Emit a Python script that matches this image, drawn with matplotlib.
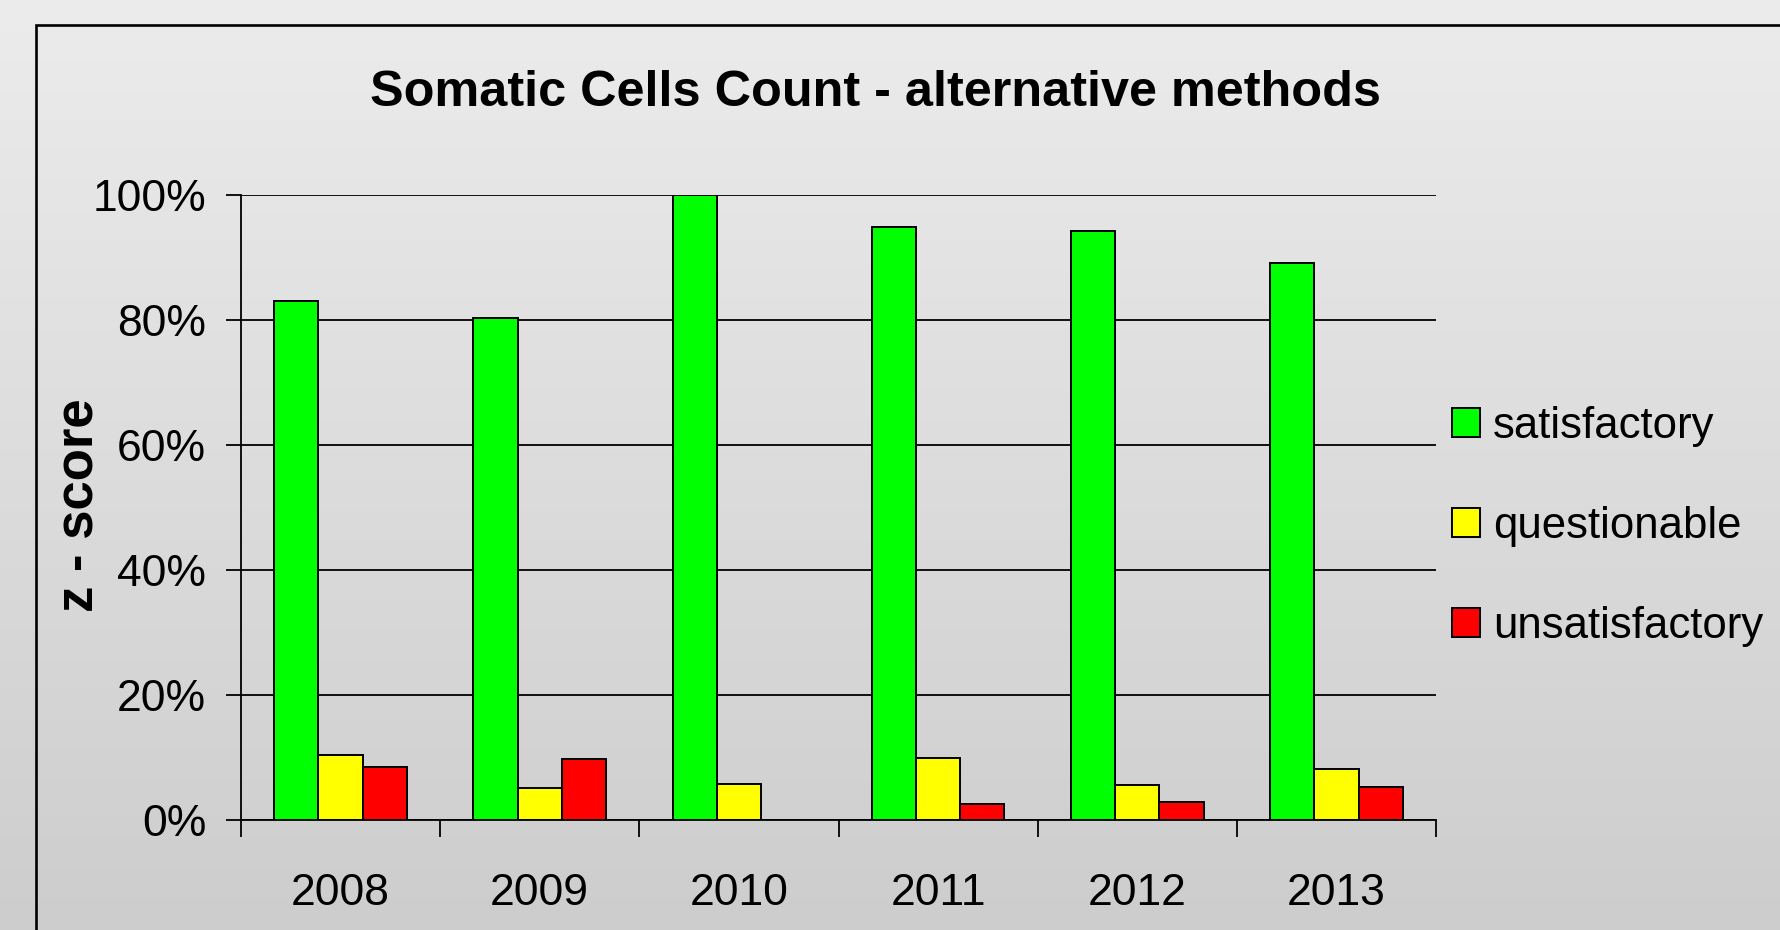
import numpy as np
import matplotlib
matplotlib.use("Agg")
import matplotlib.pyplot as plt
from matplotlib.lines import Line2D
from matplotlib.patches import Patch

plt.rcParams['font.family'] = ['Liberation Sans', 'DejaVu Sans']

years = ["2008", "2009", "2010", "2011", "2012", "2013"]
series_names = ["satisfactory", "questionable", "unsatisfactory"]
satisfactory = [83.1, 80.3, 100.0, 94.9, 94.3, 89.1]
questionable = [10.4, 5.1, 5.7, 10.0, 5.65, 8.2]
unsatisfactory = [8.5, 9.8, 0.0, 2.6, 2.9, 5.3]
colors = ["#00ff00", "#ffff00", "#ff0000"]
yticks = [0, 20, 40, 60, 80, 100]
ytick_labels = ["0%", "20%", "40%", "60%", "80%", "100%"]

W, H = 1780, 930
fig = plt.figure(figsize=(W / 100, H / 100), dpi=100)

# background gradient
bg = fig.add_axes([0, 0, 1, 1], zorder=-10)
grad = np.linspace(236, 205, 256).reshape(-1, 1) / 255.0
bg.imshow(np.dstack([grad, grad, grad]), aspect='auto', extent=[0, 1, 0, 1],
          interpolation='bicubic')
bg.set_axis_off()

# outer frame
fx = 36 / W
fy = 1 - 25 / H
fig.add_artist(Line2D([fx, fx, 1.01], [-0.01, fy, fy], transform=fig.transFigure,
                      color='black', lw=1.9, solid_joinstyle='miter'))

ax = fig.add_axes([241 / W, 1 - 820 / H, (1436 - 241) / W, (820 - 195) / H])
ax.set_facecolor('none')

x = np.arange(len(years))
w = 0.222
data = [satisfactory, questionable, unsatisfactory]
for i, (vals, c, name) in enumerate(zip(data, colors, series_names)):
    ax.bar(x + (i - 1) * w, vals, width=w, color=c, edgecolor='black',
           linewidth=1.4, label=name, zorder=3)

ax.set_xlim(-0.5, len(years) - 0.5)
ax.set_ylim(0, 100)
ax.set_yticks(yticks)
ax.set_yticklabels(ytick_labels, fontsize=32)
ax.yaxis.grid(True, color='black', linewidth=1.3, zorder=0)
ax.set_axisbelow(True)

# x ticks at category boundaries, labels at centers
ax.set_xticks(np.arange(-0.5, len(years), 1.0))
ax.set_xticklabels([])
ax.set_xticks(x, minor=True)
ax.set_xticklabels(years, minor=True, fontsize=32)
ax.tick_params(axis='x', which='major', length=12, width=1.3, direction='out')
ax.tick_params(axis='x', which='minor', length=0, pad=38)
ax.tick_params(axis='y', length=11, width=1.3, pad=14)

for s in ['top', 'right']:
    ax.spines[s].set_visible(False)
for s in ['left', 'bottom']:
    ax.spines[s].set_linewidth(1.3)

fig.text(79 / W, 1 - 505 / H, "z - score", rotation=90, ha='center', va='center',
         fontsize=38, fontweight='bold')

fig.text(875 / W, 1 - 93 / H, "Somatic Cells Count - alternative methods",
         ha='center', va='center', fontsize=36.3, fontweight='bold')

handles = [Patch(facecolor=c, edgecolor='black', linewidth=1.4) for c in colors]
fig.legend(handles, series_names, loc='center left',
           bbox_to_anchor=(1452 / W, 1 - 526.5 / H), frameon=False,
           fontsize=31.5, handlelength=0.64, handleheight=0.64,
           handletextpad=0.3, labelspacing=1.35, borderpad=0, borderaxespad=0)

fig.savefig("out.png", dpi=100)
